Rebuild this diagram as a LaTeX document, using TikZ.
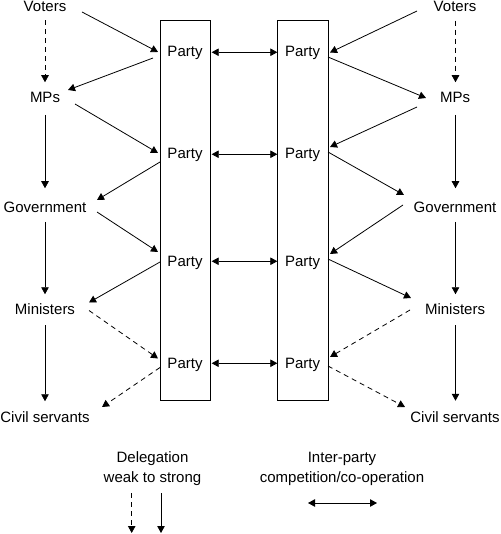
\documentclass[tikz,border=0pt]{standalone}
\usepackage{fontspec}
\setmainfont{Liberation Sans}
\usetikzlibrary{arrows.meta}
\begin{document}
\begin{tikzpicture}[x=1pt,y=-1pt,
  lbl/.style={inner sep=0pt,text height=10.7pt,text depth=3.2pt,font=\fontsize{15}{18}\selectfont},
  partylbl/.style={lbl,minimum width=50pt},
  column/.style={draw,line width=0.8pt,minimum width=50pt,minimum height=380pt,inner sep=0pt},
  arr/.style={line width=0.8pt,-{Triangle[length=7pt,width=7.5pt]}},
  darr/.style={arr,dash pattern=on 5pt off 4pt},
  dbl/.style={line width=0.8pt,{Triangle[length=7pt,width=7.5pt]}-{Triangle[length=7pt,width=7.5pt]}},
  legend/.style={inner sep=0pt,align=center,font=\fontsize{15}{20}\selectfont}]
\useasboundingbox (0,0) rectangle (500,534);

% columns
\node[column] (boxL) at (185,210) {};
\node[column,minimum width=51pt] (boxR) at (302.5,210) {};

% left labels
\node[lbl] (vL) at (45,8.25) {Voters};
\node[lbl] (mL) at (45,99.25) {MPs};
\node[lbl] (gL) at (45,209.25) {Government};
\node[lbl] (miL) at (45,310.25) {Ministers};
\node[lbl] (cL) at (45,418.25) {Civil servants};
% right labels
\node[lbl] (vR) at (455,8.25) {Voters};
\node[lbl] (mR) at (455,99.25) {MPs};
\node[lbl] (gR) at (455,209.25) {Government};
\node[lbl] (miR) at (455,310.25) {Ministers};
\node[lbl] (cR) at (455,418.25) {Civil servants};
% parties
\node[partylbl] (pL1) at (185,53.25) {Party};
\node[partylbl] (pL2) at (185,155.25) {Party};
\node[partylbl] (pL3) at (185,262.25) {Party};
\node[partylbl] (pL4) at (185,364.25) {Party};
\node[partylbl] (pR1) at (302.5,53.25) {Party};
\node[partylbl] (pR2) at (302.5,155.25) {Party};
\node[partylbl] (pR3) at (302.5,262.25) {Party};
\node[partylbl] (pR4) at (302.5,364.25) {Party};

% inter-party arrows
\foreach \i in {1,2,3,4}{
  \draw[dbl] ([shift={(1.5,-1)}]pL\i.east) -- ([shift={(0,-1)}]pR\i.west);
}

% left vertical chain
\draw[darr] ([shift={(0,12)}]vL.center) -- ([shift={(0,-17)}]mL.center);
\draw[arr] ([shift={(0,15.75)}]mL.center) -- ([shift={(0,-21)}]gL.center);
\draw[arr] ([shift={(0,12.75)}]gL.center) -- ([shift={(0,-16)}]miL.center);
\draw[arr] ([shift={(0,14.75)}]miL.center) -- ([shift={(0,-17)}]cL.center);
% right vertical chain
\draw[darr] ([shift={(0.5,12.5)}]vR.center) -- ([shift={(0.5,-17)}]mR.center);
\draw[arr] ([shift={(0.5,15.75)}]mR.center) -- ([shift={(0.5,-21)}]gR.center);
\draw[arr] ([shift={(0.5,12.75)}]gR.center) -- ([shift={(0.5,-16)}]miR.center);
\draw[arr] ([shift={(0.5,14.75)}]miR.center) -- ([shift={(0.5,-17.5)}]cR.center);

% left diagonals
\draw[arr] ([shift={(37,3.75)}]vL.center) -- ([shift={(-27,-1.25)}]pL1.center);
\draw[arr] ([shift={(-32,4.75)}]pL1.center) -- ([shift={(23,-9.25)}]mL.center);
\draw[arr] ([shift={(30,4.75)}]mL.center) -- ([shift={(-27,-2.25)}]pL2.center);
\draw[arr] ([shift={(-25,6.75)}]pL2.center) -- ([shift={(52,-9.25)}]gL.center);
\draw[arr] ([shift={(52,2.75)}]gL.center) -- ([shift={(-27,-10.25)}]pL3.center);
\draw[arr] ([shift={(-25,-0.25)}]pL3.center) -- ([shift={(44,-7.75)}]miL.center);
\draw[darr] ([shift={(44,0.25)}]miL.center) -- ([shift={(-27,-5.75)}]pL4.center);
\draw[darr] ([shift={(-25,3.25)}]pL4.center) -- ([shift={(57,-11.25)}]cL.center);

% right diagonals
\draw[arr] ([shift={(-38,2.75)}]vR.center) -- ([shift={(27.5,-0.75)}]pR1.center);
\draw[arr] ([shift={(25.5,3.75)}]pR1.center) -- ([shift={(-29,-1.25)}]mR.center);
\draw[arr] ([shift={(-38,7.75)}]mR.center) -- ([shift={(27.5,-8.25)}]pR2.center);
\draw[arr] ([shift={(25.5,-3.25)}]pR2.center) -- ([shift={(-51,-14.25)}]gR.center);
\draw[arr] ([shift={(-52,-4.25)}]gR.center) -- ([shift={(27.5,-8.25)}]pR3.center);
\draw[arr] ([shift={(25.5,-3.25)}]pR3.center) -- ([shift={(-44,-12.25)}]miR.center);
\draw[darr] ([shift={(-45,-0.25)}]miR.center) -- ([shift={(27.5,-7.25)}]pR4.center);
\draw[darr] ([shift={(25.5,1.75)}]pR4.center) -- ([shift={(-50,-11.25)}]cR.center);

% legend
\node[legend,anchor=base] (delg) at (152.5,482) {Delegation\\weak to strong};
\node[legend,anchor=base] (inter) at (342,482) {Inter-party\\competition/co-operation};
\coordinate (ldA1) at (131.7,493);
\coordinate (ldA2) at (131.7,533);
\coordinate (ldB1) at (161,493);
\coordinate (ldB2) at (161,533);
\coordinate (liA) at (308,503);
\coordinate (liB) at (377,503);
\draw[darr] (ldA1) -- (ldA2);
\draw[arr] (ldB1) -- (ldB2);
\draw[dbl] (liA) -- (liB);
\end{tikzpicture}
\end{document}
